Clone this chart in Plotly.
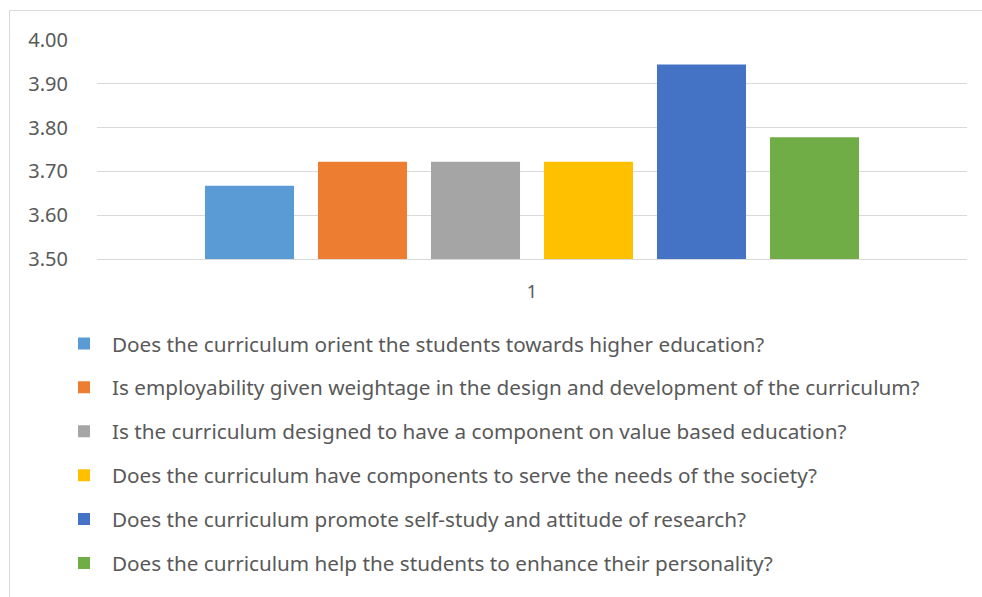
import plotly.graph_objects as go

# Mean ratings for each curriculum question (single category "1")
category = ["1"]
questions = [
    "Does the curriculum orient the students towards higher education?",
    "Is employability given weightage in the design and development of the curriculum?",
    "Is the curriculum designed to have a component on value based education?",
    "Does the curriculum have components to serve the needs of the society?",
    "Does the curriculum promote self-study and attitude of research?",
    "Does the curriculum help the students to enhance their personality?",
]
scores = [3.667, 3.722, 3.722, 3.722, 3.944, 3.778]
colors = ["#5B9BD5", "#ED7D31", "#A5A5A5", "#FFC000", "#4472C4", "#70AD47"]

W, H = 982, 597
L, R, T, B = 97, 15, 40, 338
pw, ph = W - L - R, H - T - B


def px_x(x):
    return (x - L) / pw


def px_y(y):
    return (H - B - y) / ph


FONT = "Noto Sans"
TEXT = "#595959"
GRID = "#D9D9D9"

fig = go.Figure()
for i, (q, v, c) in enumerate(zip(questions, scores, colors)):
    fig.add_trace(go.Bar(
        x=category, y=[v], name=q, marker=dict(color=c, line=dict(width=0)),
        legendgroup=f"g{i}",
    ))

fig.update_layout(
    width=W, height=H,
    margin=dict(l=L, r=R, t=T, b=B, pad=0, autoexpand=False),
    paper_bgcolor="white", plot_bgcolor="white",
    barmode="group", bargap=0.2207, bargroupgap=0.212,
    font=dict(family=FONT, color=TEXT, size=18),
    showlegend=True,
    legend=dict(
        orientation="v", x=px_x(56), xanchor="left", y=px_y(323.5), yanchor="top",
        font=dict(family=FONT, size=20.7, color=TEXT),
        itemwidth=46, tracegroupgap=14, traceorder="grouped",
        bgcolor="rgba(0,0,0,0)",
    ),
    xaxis=dict(
        showgrid=False, showline=True, linecolor=GRID, linewidth=1,
        ticks="", ticklabelstandoff=16,
        tickfont=dict(family=FONT, size=18, color=TEXT),
    ),
    yaxis=dict(
        range=[3.5, 4.0], dtick=0.1, tickformat=".2f",
        showgrid=True, gridcolor=GRID, gridwidth=1,
        zeroline=False, showline=False, ticks="", ticklabelstandoff=28,
        tickfont=dict(family=FONT, size=20, color=TEXT),
    ),
    shapes=[dict(
        type="rect", xref="paper", yref="paper",
        x0=px_x(9.5), x1=px_x(1000), y0=px_y(620), y1=px_y(10.5),
        line=dict(color=GRID, width=1), fillcolor="rgba(0,0,0,0)", layer="below",
    )],
)

fig.write_html("out.html")
